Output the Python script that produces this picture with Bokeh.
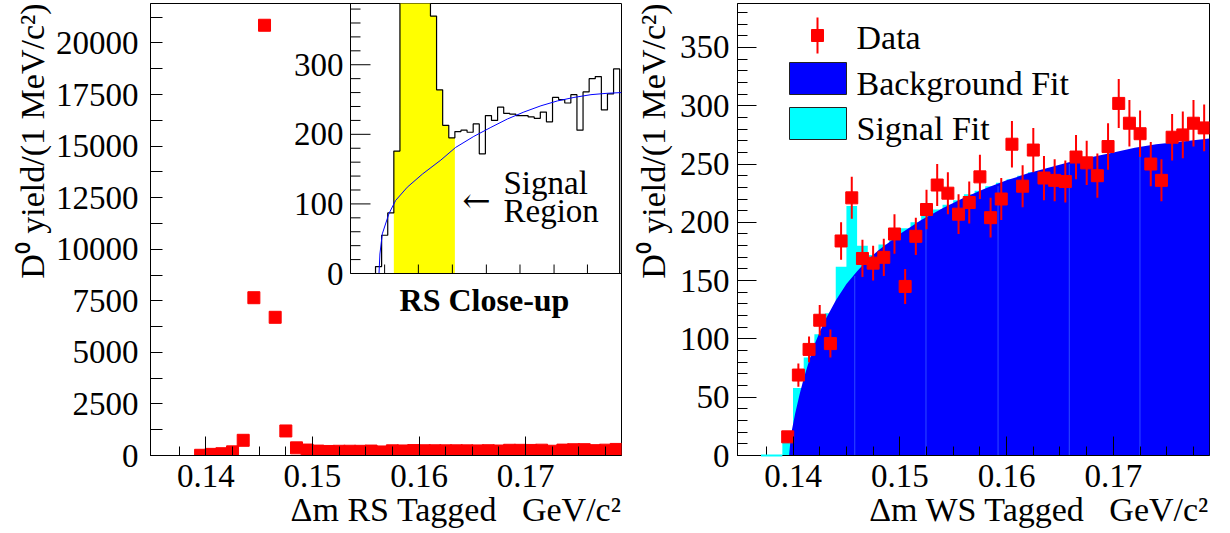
from bokeh.plotting import figure
from bokeh.models import Range1d, FixedTicker, Title
from bokeh.layouts import row
from bokeh.embed import file_html
from bokeh.resources import INLINE
from bokeh.core.properties import value

# ---------------------------------------------------------------- data
# delta-m bin centres (GeV/c^2), 1 MeV wide bins
dm_centres = [0.1395, 0.1405, 0.1415, 0.1425, 0.1435, 0.1445, 0.1455, 0.1465, 0.1475, 0.1485,
              0.1495, 0.1505, 0.1515, 0.1525, 0.1535, 0.1545, 0.1555, 0.1565, 0.1575, 0.1585,
              0.1595, 0.1605, 0.1615, 0.1625, 0.1635, 0.1645, 0.1655, 0.1665, 0.1675, 0.1685,
              0.1695, 0.1705, 0.1715, 0.1725, 0.1735, 0.1745, 0.1755, 0.1765, 0.1775, 0.1785]
BIN = 0.001

# right-sign tagged D0 yield per bin
rs_yield = [10, 55, 87, 176, 737, 7650, 20860, 6700, 1190, 370,
            264, 213, 195, 204, 206, 203, 215, 172, 227, 220,
            239, 230, 229, 227, 227, 225, 223, 232, 218, 253,
            250, 245, 257, 206, 261, 280, 283, 235, 258, 294]

# signal region shaded in the close-up
signal_region = [0.142, 0.152]

# background fit shown in the RS close-up
rs_fit_dm = [0.13957, 0.13972, 0.14011, 0.1412, 0.1423, 0.1442, 0.1467, 0.1497, 0.1521, 0.1551,
             0.1579, 0.1606, 0.1633, 0.1661, 0.1688, 0.1715, 0.1743, 0.1770, 0.1793]
rs_fit_yield = [0, 28, 57, 86, 105, 124, 143, 163, 181, 197,
                210, 222, 232, 241, 248, 253, 257, 259, 260]

# wrong-sign tagged D0 yield per bin and its uncertainty
ws_yield = [16, 69, 91, 116, 96, 184, 221, 169, 165, 170,
            190, 145, 188, 211, 232, 225, 207, 217, 239, 204,
            220, 267, 231, 262, 238, 236, 235, 256, 251, 240,
            265, 302, 285, 276, 250, 236, 273, 275, 285, 281]
ws_error = [5, 10, 11, 13, 12, 16, 18, 16, 15, 16,
            17, 15, 16, 17, 18, 18, 17, 18, 19, 17,
            18, 20, 18, 19, 19, 18, 18, 19, 19, 19,
            20, 21, 20, 20, 19, 18, 20, 20, 20, 20]

# WS background fit (smooth threshold shape)
ws_bkg_dm = [0.13963, 0.13975, 0.1399, 0.1402, 0.1406, 0.1410, 0.1415, 0.1420, 0.1425, 0.1430,
             0.1440, 0.1450, 0.1460, 0.1470, 0.1480, 0.1490, 0.1500, 0.1510, 0.1520, 0.1530,
             0.1540, 0.1560, 0.1580, 0.1600, 0.1620, 0.1640, 0.1660, 0.1680, 0.1700, 0.1720,
             0.1740, 0.1760, 0.1790]
ws_bkg_yield = [0, 12, 22, 36, 52, 66, 81, 95, 106, 116,
                133, 147, 158, 168, 176, 183, 190, 196, 202, 207,
                212, 221, 229, 236, 242, 247, 252, 256, 260, 264,
                267, 269, 272]

# WS signal + background fit, binned
ws_total_centres = [0.1375, 0.1385, 0.1395, 0.1405, 0.1415, 0.1425, 0.1435, 0.1445, 0.1455, 0.1465,
                    0.1475, 0.1485, 0.1495, 0.1505, 0.1515, 0.1525, 0.1535, 0.1545, 0.1555, 0.1565,
                    0.1575, 0.1585, 0.1595, 0.1605, 0.1615, 0.1625]
ws_total_yield = [0, 0, 16, 58, 84, 104, 122, 162, 214, 180,
                  172, 181, 188, 195, 200, 206, 211, 215, 219, 224,
                  227, 231, 234, 237, 240, 243]

# faint polygon seams inside the background fill
ws_seam_dm = [0.14578, 0.15245, 0.1592, 0.16587, 0.17249]
ws_seam_top = [154, 203, 231, 250, 262]

# ticks
x_major = [0.14, 0.15, 0.16, 0.17]
x_minor = [0.1375, 0.1425, 0.145, 0.1475, 0.1525, 0.155, 0.1575,
           0.1625, 0.165, 0.1675, 0.1725, 0.175, 0.1775]
rs_y_major = [0, 2500, 5000, 7500, 10000, 12500, 15000, 17500, 20000]
rs_y_minor = [1250, 3750, 6250, 8750, 11250, 13750, 16250, 18750, 21250]
ws_y_major = [0, 50, 100, 150, 200, 250, 300, 350]
ws_y_minor = [v for v in range(10, 390, 10) if v % 50]
inset_y_major = [0, 100, 200, 300]
inset_y_minor = [v for v in range(20, 390, 20) if v % 100]
inset_x_ticks = [0.14049, 0.14602, 0.15159, 0.15716, 0.16267, 0.16825, 0.17372]

x_label = "\u0394m RS Tagged\u00a0\u00a0\u00a0GeV/c\u00b2"
x_label_ws = "\u0394m WS Tagged\u00a0\u00a0\u00a0GeV/c\u00b2"
y_label = "D\u2070 yield/(1 MeV/c\u00b2)"

# ---------------------------------------------------------------- layout constants
FONT = "Liberation Serif"
H = 533
LEFT_W, RIGHT_W = 622, 608
L_FRAME = dict(left=150, right=621, top=3, bottom=455)
R_FRAME = dict(left=737, right=1209, top=3, bottom=455)
INSET = dict(left=350, right=621, top=3, bottom=273)
INSET_X = (0.1349, 0.1793)
INSET_YTOP = 388.0
X_RANGE = (0.1348, 0.1790)

RED = "#ff0000"
BLUE = "#0000ff"
CYAN = "#00ffff"
YELLOW = "#ffff00"


def step_outline(centres, heights, width=BIN):
    xs, ys = [], []
    for c, h in zip(centres, heights):
        xs += [c - width / 2, c + width / 2]
        ys += [h, h]
    return [xs[0]] + xs + [xs[-1]], [0] + ys + [0]


def make_fig(width, origin, frame, y_end, y_major, y_minor, ylen, ylen_minor,
             ylab_standoff, ytitle_standoff, xlabel):
    p = figure(width=width, height=H,
               x_range=Range1d(*X_RANGE), y_range=Range1d(0, y_end),
               output_backend="svg", toolbar_location=None, title_location=None,
               min_border_left=frame["left"] - origin,
               min_border_right=origin + width - frame["right"],
               min_border_top=frame["top"], min_border_bottom=H - frame["bottom"])
    p.extra_x_ranges["px"] = Range1d(frame["left"], frame["right"])
    p.extra_y_ranges["py"] = Range1d(frame["bottom"], frame["top"])
    p.background_fill_color = "white"
    p.border_fill_color = "white"
    p.outline_line_color = "black"
    p.outline_line_alpha = 1.0
    p.outline_line_width = 1
    p.xgrid.visible = False
    p.ygrid.visible = False

    p.xaxis.ticker = FixedTicker(ticks=x_major, minor_ticks=x_minor)
    p.yaxis.ticker = FixedTicker(ticks=y_major, minor_ticks=y_minor)
    for ax in p.axis:
        ax.axis_line_color = "black"
        ax.major_tick_line_color = "black"
        ax.minor_tick_line_color = "black"
        ax.major_tick_out = 0
        ax.minor_tick_out = 0
        ax.major_label_text_font = FONT
        ax.major_label_text_font_size = "33px"
        ax.major_label_text_color = "black"
    p.xaxis.major_tick_in = 19
    p.xaxis.minor_tick_in = 9
    p.xaxis.major_label_standoff = 9
    p.yaxis.major_tick_in = ylen
    p.yaxis.minor_tick_in = ylen_minor
    p.yaxis.major_label_standoff = ylab_standoff

    # axis titles, flush with the right end / top end of their axes
    p.add_layout(Title(text=xlabel, align="right", text_font=FONT, text_font_size="34px",
                       text_font_style="normal", text_color="black", standoff=-2), "below")
    p.add_layout(Title(text=y_label, align="right", text_font=FONT, text_font_size="34px",
                       text_font_style="normal", text_color="black",
                       standoff=ytitle_standoff), "left")
    return p


# ---------------------------------------------------------------- left: RS tagged
left = make_fig(LEFT_W, 0, L_FRAME, 21915, rs_y_major, rs_y_minor, 12, 12, 12, 4, x_label)

left.scatter(dm_centres, rs_yield, marker="square", size=12,
             fill_color=RED, line_color=RED)

# close-up inset, drawn through its own ranges mapped onto the inset box
sx = (INSET["right"] - INSET["left"]) / (INSET_X[1] - INSET_X[0])
sy = (INSET["bottom"] - INSET["top"]) / INSET_YTOP
left.extra_x_ranges["ix"] = Range1d(INSET_X[0] - (INSET["left"] - L_FRAME["left"]) / sx,
                                    INSET_X[1] + (L_FRAME["right"] - INSET["right"]) / sx)
left.extra_y_ranges["iy"] = Range1d(-(L_FRAME["bottom"] - INSET["bottom"]) / sy,
                                    INSET_YTOP + (INSET["top"] - L_FRAME["top"]) / sy)
IN = dict(x_range_name="ix", y_range_name="iy")

sig_c = [c for c in dm_centres if signal_region[0] < c < signal_region[1]]
sig_h = [h for c, h in zip(dm_centres, rs_yield) if signal_region[0] < c < signal_region[1]]
yx, yy = step_outline(sig_c, sig_h)
left.patch(yx, yy, fill_color=YELLOW, line_color=None, **IN)

hx, hy = step_outline(dm_centres, rs_yield)
left.line(hx, hy, line_color="black", line_width=1.2, **IN)

left.line(rs_fit_dm, rs_fit_yield, line_color=BLUE, line_width=1, **IN)

# inset frame and ticks
left.line([INSET_X[0], INSET_X[0]], [0, INSET_YTOP], line_color="black", line_width=1, **IN)
left.line([INSET_X[0], INSET_X[1]], [0, 0], line_color="black", line_width=1, **IN)
left.segment(x0=[INSET_X[0]] * len(inset_y_major), y0=inset_y_major,
             x1=[INSET_X[0] + 20 / sx] * len(inset_y_major), y1=inset_y_major,
             line_color="black", line_width=1, **IN)
left.segment(x0=[INSET_X[0]] * len(inset_y_minor), y0=inset_y_minor,
             x1=[INSET_X[0] + 10 / sx] * len(inset_y_minor), y1=inset_y_minor,
             line_color="black", line_width=1, **IN)
left.segment(x0=inset_x_ticks, y0=[0] * len(inset_x_ticks),
             x1=inset_x_ticks, y1=[9 / sy] * len(inset_x_ticks),
             line_color="black", line_width=1, **IN)
left.text(x=[INSET_X[0]] * len(inset_y_major), y=inset_y_major,
          text=[str(v) for v in inset_y_major], x_offset=-7,
          text_align="right", text_baseline="middle", text_color="black",
          text_font=value(FONT), text_font_size=value("33px"), **IN)

PX = dict(x_range_name="px", y_range_name="py")
left.text(x=[484], y=[299], text=["RS Close-up"], text_align="center",
          text_baseline="alphabetic", text_color="black", text_font=value(FONT),
          text_font_size=value("32px"), text_font_style="bold", **PX)
left.text(x=[503, 503], y=[182, 210], text=["Signal", "Region"], text_align="left",
          text_baseline="alphabetic", text_color="black", text_font=value(FONT),
          text_font_size=value("33px"), **PX)
left.text(x=[476], y=[199], text=["\u2190"], text_align="center",
          text_baseline="alphabetic", text_color="black", text_font=value("DejaVu Serif"),
          text_font_size=value("34px"), **PX)

# ---------------------------------------------------------------- right: WS tagged
right = make_fig(RIGHT_W, LEFT_W, R_FRAME, 387.7, ws_y_major, ws_y_minor, 19, 10, 8, 10, x_label_ws)

tx, ty = step_outline(ws_total_centres, ws_total_yield)
right.patch(tx, ty, fill_color=CYAN, line_color=None)
zero_c = [c for c, h in zip(ws_total_centres, ws_total_yield) if h == 0]
zline = right.line([zero_c[0] - BIN / 2, zero_c[-1] + BIN / 2], [0, 0],
                   line_color=CYAN, line_width=2)
zline.level = "overlay"

right.varea(x=ws_bkg_dm, y1=[0] * len(ws_bkg_dm), y2=ws_bkg_yield, fill_color=BLUE)
right.segment(x0=ws_seam_dm, y0=[0] * len(ws_seam_dm), x1=ws_seam_dm, y1=ws_seam_top,
              line_color="#3b5cff", line_width=1, line_alpha=0.8)

lo = [v - e for v, e in zip(ws_yield, ws_error)]
hi = [v + e for v, e in zip(ws_yield, ws_error)]
right.segment(x0=dm_centres, y0=lo, x1=dm_centres, y1=hi, line_color=RED, line_width=2)
right.scatter(dm_centres, ws_yield, marker="square", size=12,
              fill_color=RED, line_color=RED)

# legend
right.segment(x0=[817], y0=[17], x1=[817], y1=[53], line_color=RED, line_width=2, **PX)
right.scatter([817], [35], marker="square", size=12, fill_color=RED, line_color=RED, **PX)
right.quad(left=[789, 789], right=[846, 846], top=[62, 107], bottom=[94, 139],
           fill_color=[BLUE, CYAN], line_color="#222222", line_width=1, **PX)
right.text(x=[856, 856, 856], y=[37, 83, 128], text=["Data", "Background Fit", "Signal Fit"],
           text_align="left", text_baseline="alphabetic", text_color="black",
           text_font=value(FONT), text_font_size=value("34px"), **PX)

layout = row(left, right)
open("out.html", "w").write(file_html(layout, INLINE))
